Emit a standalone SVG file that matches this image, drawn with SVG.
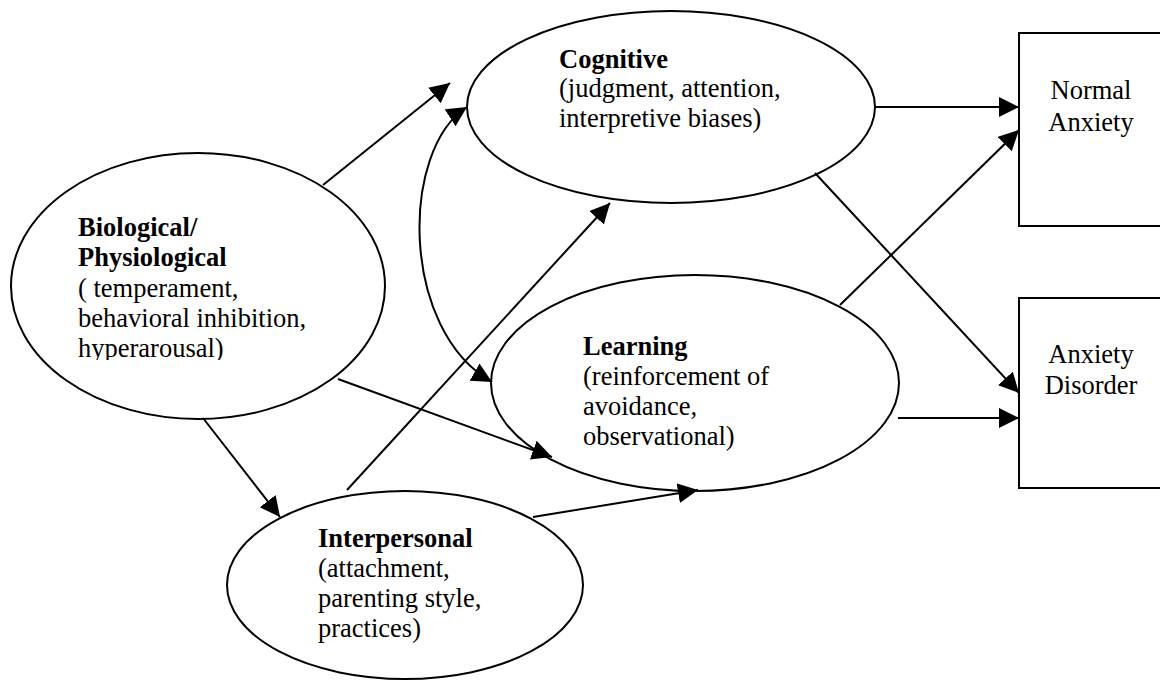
<svg xmlns="http://www.w3.org/2000/svg" width="1160" height="681" viewBox="0 0 1160 681">
<style>
.shape{fill:#fff;stroke:#000;stroke-width:2}
.conn{fill:none;stroke:#000;stroke-width:2}
text{font-family:"Liberation Serif","Times New Roman",serif;font-size:26.5px;fill:#000}
.b{font-weight:bold}
</style>
<defs>
<marker id="arr" markerUnits="userSpaceOnUse" markerWidth="22" markerHeight="22" refX="20" refY="10" orient="auto-start-reverse" viewBox="0 0 22 22">
<path d="M0,0 L20,10 L0,20 z" fill="#000"/>
</marker>
<clipPath id="bioclip"><rect x="0" y="150" width="400" height="210"/></clipPath>
</defs>
<rect width="1160" height="681" fill="#fff"/>
<g id="bio">
<ellipse class="shape" cx="198" cy="286" rx="187" ry="133"/>
<g clip-path="url(#bioclip)">
<text x="78" y="236" class="b">Biological/</text>
<text x="78" y="266" class="b">Physiological</text>
<text x="78" y="297">( temperament,</text>
<text x="78" y="327">behavioral inhibition,</text>
<text x="78" y="357">hyperarousal)</text>
</g>
</g>
<g id="cognitive">
<ellipse class="shape" cx="671" cy="107" rx="204" ry="96"/>
<text x="559" y="68" class="b">Cognitive</text>
<text x="559" y="97">(judgment, attention,</text>
<text x="559" y="127">interpretive biases)</text>
</g>
<g id="learning">
<ellipse class="shape" cx="695" cy="383" rx="204" ry="108"/>
<text x="583" y="355" class="b">Learning</text>
<text x="583" y="385">(reinforcement of</text>
<text x="583" y="415">avoidance,</text>
<text x="583" y="445">observational)</text>
</g>
<g id="interpersonal">
<ellipse class="shape" cx="405" cy="585" rx="178" ry="94"/>
<text x="318" y="547" class="b">Interpersonal</text>
<text x="318" y="577">(attachment,</text>
<text x="318" y="607">parenting style,</text>
<text x="318" y="637">practices)</text>
</g>
<g id="normal">
<rect class="shape" x="1019" y="33" width="160" height="193"/>
<text x="1091" y="99" text-anchor="middle">Normal</text>
<text x="1091" y="131" text-anchor="middle">Anxiety</text>
</g>
<g id="disorder">
<rect class="shape" x="1019" y="298" width="160" height="190"/>
<text x="1091" y="363" text-anchor="middle">Anxiety</text>
<text x="1091" y="394" text-anchor="middle">Disorder</text>
</g>
<g id="connectors">
<line class="conn" x1="323" y1="185" x2="450" y2="83" marker-end="url(#arr)"/>
<path class="conn" d="M492,382 C400,330 400,150 467,107" marker-start="url(#arr)" marker-end="url(#arr)"/>
<line class="conn" x1="338" y1="379" x2="552" y2="457" marker-end="url(#arr)"/>
<line class="conn" x1="203" y1="418" x2="280" y2="517" marker-end="url(#arr)"/>
<line class="conn" x1="347" y1="490" x2="610" y2="203" marker-end="url(#arr)"/>
<line class="conn" x1="533" y1="517" x2="698" y2="490" marker-end="url(#arr)"/>
<line class="conn" x1="875" y1="107" x2="1019" y2="107" marker-end="url(#arr)"/>
<line class="conn" x1="815" y1="173" x2="1019" y2="393" marker-end="url(#arr)"/>
<line class="conn" x1="840" y1="305" x2="1019" y2="130" marker-end="url(#arr)"/>
<line class="conn" x1="898" y1="418" x2="1019" y2="418" marker-end="url(#arr)"/>
</g>
</svg>
